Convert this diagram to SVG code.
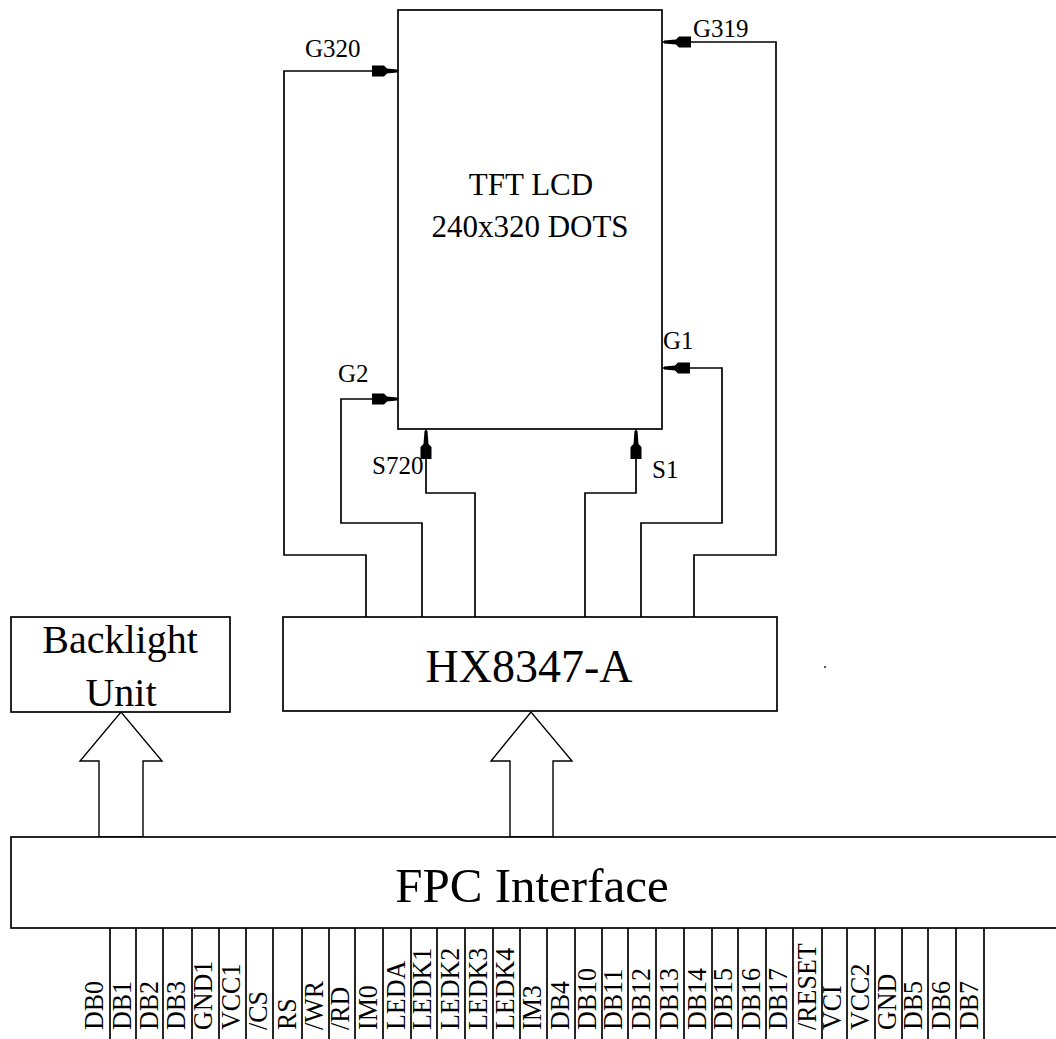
<svg xmlns="http://www.w3.org/2000/svg" width="1056" height="1039" viewBox="0 0 1056 1039">
<style>
.box{fill:#fff;stroke:#000;stroke-width:1.7}
.ln{fill:none;stroke:#000;stroke-width:1.7}
.hol{fill:#fff;stroke:#000;stroke-width:1.4;stroke-linejoin:miter}
.ah{fill:#000;stroke:none}
text{font-family:"Liberation Serif","Times New Roman",serif;fill:#000}
.sig{font-size:25px}
.pin{font-size:26px}
</style>
<rect width="1056" height="1039" fill="#fff"/>
<g id="connectors">
  <!-- G320 -->
  <polyline class="ln" points="366,617 366,555 284,555 284,71 398,71"/>
  <polygon class="ah" points="372,65.5 384,65.5 387,68.5 397,69.5 397,72.5 387,73.5 384,76.5 372,76.5"/>
  <!-- G2 -->
  <polyline class="ln" points="422,617 422,523 341,523 341,399 398,399"/>
  <polygon class="ah" points="372,393.5 384,393.5 387,396.5 397,397.5 397,400.5 387,401.5 384,404.5 372,404.5"/>
  <!-- S720 -->
  <polyline class="ln" points="475,617 475,493 426,493 426,429"/>
  <polygon class="ah" points="420.5,459 420.5,447 423.5,444 424.5,431 427.5,431 428.5,444 431.5,447 431.5,459"/>
  <!-- S1 -->
  <polyline class="ln" points="585,617 585,493 636,493 636,429"/>
  <polygon class="ah" points="630.5,459 630.5,447 633.5,444 634.5,431 637.5,431 638.5,444 641.5,447 641.5,459"/>
  <!-- G1 -->
  <polyline class="ln" points="641,617 641,523 722,523 722,368 662,368"/>
  <polygon class="ah" points="690,362.5 678,362.5 675,365.5 664,366.5 664,369.5 675,370.5 678,373.5 690,373.5"/>
  <!-- G319 -->
  <polyline class="ln" points="694,617 694,555 776,555 776,42 662,42"/>
  <polygon class="ah" points="691,36.5 679,36.5 676,39.5 664,40.5 664,43.5 676,44.5 679,47.5 691,47.5"/>
  <!-- hollow arrows -->
  <polygon class="hol" points="99,837 99,761 80,761 121,712 162,761 143,761 143,837"/>
  <polygon class="hol" points="510,837 510,761 491,761 531,712 572,761 553,761 553,837"/>
</g>
<g id="lcd">
  <rect class="box" x="398" y="10" width="264" height="419"/>
  <text x="531" y="195" font-size="31" text-anchor="middle">TFT LCD</text>
  <text x="530" y="237" font-size="31" text-anchor="middle">240x320 DOTS</text>
</g>
<g id="labels">
  <text class="sig" x="305" y="57">G320</text>
  <text class="sig" x="693" y="37">G319</text>
  <text class="sig" x="338" y="382">G2</text>
  <text class="sig" x="663" y="349">G1</text>
  <text class="sig" x="372" y="474">S720</text>
  <text class="sig" x="652" y="478">S1</text>
</g>
<g id="hx8347">
  <rect class="box" x="283" y="617" width="494" height="94"/>
  <text x="529" y="682" font-size="46" text-anchor="middle">HX8347-A</text>
</g>
<g id="backlight">
  <rect class="box" x="11" y="617" width="219" height="95"/>
  <text x="120" y="653" font-size="40" text-anchor="middle">Backlight</text>
  <text x="121" y="706" font-size="40" text-anchor="middle">Unit</text>
</g>
<g id="fpc">
  <rect class="box" x="11" y="837" width="1050" height="91"/>
  <text x="532" y="902" font-size="49" text-anchor="middle">FPC Interface</text>
</g>
<circle cx="825" cy="667" r="1.1" fill="#333"/>
<g id="pins">
  <g class="ln">
    <line x1="110" y1="928" x2="110" y2="1039"/><line x1="136" y1="928" x2="136" y2="1039"/>
    <line x1="163" y1="928" x2="163" y2="1039"/><line x1="192" y1="928" x2="192" y2="1039"/>
    <line x1="219" y1="928" x2="219" y2="1039"/><line x1="246" y1="928" x2="246" y2="1039"/>
    <line x1="273" y1="928" x2="273" y2="1039"/><line x1="302" y1="928" x2="302" y2="1039"/>
    <line x1="329" y1="928" x2="329" y2="1039"/><line x1="355" y1="928" x2="355" y2="1039"/>
    <line x1="383" y1="928" x2="383" y2="1039"/><line x1="411" y1="928" x2="411" y2="1039"/>
    <line x1="437" y1="928" x2="437" y2="1039"/><line x1="465" y1="928" x2="465" y2="1039"/>
    <line x1="493" y1="928" x2="493" y2="1039"/><line x1="520" y1="928" x2="520" y2="1039"/>
    <line x1="547" y1="928" x2="547" y2="1039"/><line x1="575" y1="928" x2="575" y2="1039"/>
    <line x1="602" y1="928" x2="602" y2="1039"/><line x1="628" y1="928" x2="628" y2="1039"/>
    <line x1="656" y1="928" x2="656" y2="1039"/><line x1="684" y1="928" x2="684" y2="1039"/>
    <line x1="712" y1="928" x2="712" y2="1039"/><line x1="738" y1="928" x2="738" y2="1039"/>
    <line x1="766" y1="928" x2="766" y2="1039"/><line x1="793" y1="928" x2="793" y2="1039"/>
    <line x1="822" y1="928" x2="822" y2="1039"/><line x1="847" y1="928" x2="847" y2="1039"/>
    <line x1="875" y1="928" x2="875" y2="1039"/><line x1="902" y1="928" x2="902" y2="1039"/>
    <line x1="928" y1="928" x2="928" y2="1039"/><line x1="956" y1="928" x2="956" y2="1039"/>
    <line x1="984" y1="928" x2="984" y2="1039"/>
  </g>
  <g class="pin">
    <text transform="translate(103,1030) rotate(-90) scale(1,1.08)">DB0</text>
    <text transform="translate(131,1030) rotate(-90) scale(1,1.08)">DB1</text>
    <text transform="translate(158,1030) rotate(-90) scale(1,1.08)">DB2</text>
    <text transform="translate(185,1030) rotate(-90) scale(1,1.08)">DB3</text>
    <text transform="translate(212,1030) rotate(-90) scale(1,1.08)">GND1</text>
    <text transform="translate(240,1030) rotate(-90) scale(1,1.08)">VCC1</text>
    <text transform="translate(267,1030) rotate(-90) scale(1,1.08)">/CS</text>
    <text transform="translate(296,1030) rotate(-90) scale(1,1.08)">RS</text>
    <text transform="translate(323,1030) rotate(-90) scale(1,1.08)">/WR</text>
    <text transform="translate(349,1030) rotate(-90) scale(1,1.08)">/RD</text>
    <text transform="translate(377,1030) rotate(-90) scale(1,1.08)">IM0</text>
    <text transform="translate(405,1030) rotate(-90) scale(1,1.08)">LEDA</text>
    <text transform="translate(431,1030) rotate(-90) scale(1,1.08)">LEDK1</text>
    <text transform="translate(459,1030) rotate(-90) scale(1,1.08)">LEDK2</text>
    <text transform="translate(487,1030) rotate(-90) scale(1,1.08)">LEDK3</text>
    <text transform="translate(514,1030) rotate(-90) scale(1,1.08)">LEDK4</text>
    <text transform="translate(541,1030) rotate(-90) scale(1,1.08)">IM3</text>
    <text transform="translate(569,1030) rotate(-90) scale(1,1.08)">DB4</text>
    <text transform="translate(596,1030) rotate(-90) scale(1,1.08)">DB10</text>
    <text transform="translate(622,1030) rotate(-90) scale(1,1.08)">DB11</text>
    <text transform="translate(650,1030) rotate(-90) scale(1,1.08)">DB12</text>
    <text transform="translate(678,1030) rotate(-90) scale(1,1.08)">DB13</text>
    <text transform="translate(706,1030) rotate(-90) scale(1,1.08)">DB14</text>
    <text transform="translate(732,1030) rotate(-90) scale(1,1.08)">DB15</text>
    <text transform="translate(760,1030) rotate(-90) scale(1,1.08)">DB16</text>
    <text transform="translate(787,1030) rotate(-90) scale(1,1.08)">DB17</text>
    <text transform="translate(816,1030) rotate(-90) scale(1,1.08)">/RESET</text>
    <text transform="translate(841,1030) rotate(-90) scale(1,1.08)">VCI</text>
    <text transform="translate(869,1030) rotate(-90) scale(1,1.08)">VCC2</text>
    <text transform="translate(896,1030) rotate(-90) scale(1,1.08)">GND</text>
    <text transform="translate(922,1030) rotate(-90) scale(1,1.08)">DB5</text>
    <text transform="translate(950,1030) rotate(-90) scale(1,1.08)">DB6</text>
    <text transform="translate(978,1030) rotate(-90) scale(1,1.08)">DB7</text>
  </g>
</g>
</svg>
